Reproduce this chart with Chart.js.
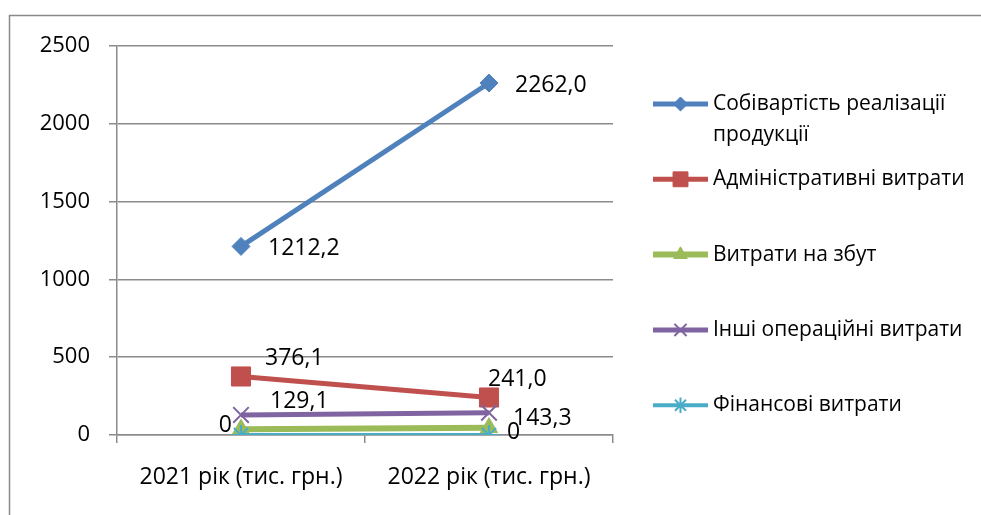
<!DOCTYPE html>
<html>
<head>
<meta charset="utf-8">
<script src="https://cdn.jsdelivr.net/npm/chart.js@4/dist/chart.umd.min.js"></script>
<style>
  html, body { margin: 0; padding: 0; background: #fff; overflow: hidden; }
  #wrap { position: relative; width: 981px; height: 515px; }
</style>
</head>
<body>
<div id="wrap"><canvas id="c" width="981" height="515"></canvas></div>
<script>
// Categories (years) and expense series, тис. грн.
const categories = ['2021 рік (тис. грн.)', '2022 рік (тис. грн.)'];
const costOfSales = [1212.2, 2262.0];
const adminExpenses = [376.1, 241.0];
const sellingExpenses = [37, 47];
const otherOperating = [129.1, 143.3];
const financeExpenses = [0, 0];
const yTicks = [0, 500, 1000, 1500, 2000, 2500];

const seriesNames = [
  ['Собівартість реалізації', 'продукції'],
  ['Адміністративні витрати'],
  ['Витрати на збут'],
  ['Інші операційні витрати'],
  ['Фінансові витрати']
];

const FONT = "'Open Sans', 'Noto Sans', sans-serif";
const GRID = '#8b8b8b';

// Where each value label sits relative to its point (null = no labels)
const labelPlacement = [
  [{ dx: 27, dy: 2, align: 'left' }, { dx: 26, dy: 2, align: 'left' }],
  [{ dx: 24, dy: -18, align: 'left' }, { dx: -1, dy: -18, align: 'left' }],
  null,
  [{ dx: 29, dy: -13, align: 'left' }, { dx: 24, dy: 6, align: 'left' }],
  [{ dx: -9, dy: -10, align: 'right' }, { dx: 18, dy: -3, align: 'left' }]
];

function fmt(v) {
  return v === 0 ? '0' : v.toFixed(1).replace('.', ',');
}

function series(idx, data, color, style, radius, width, pbw) {
  return {
    label: seriesNames[idx].join(' '),
    data: data,
    borderColor: color,
    backgroundColor: color,
    borderWidth: width,
    pointStyle: style,
    pointRadius: radius,
    pointBorderWidth: pbw,
    pointBorderColor: color,
    pointBackgroundColor: color,
    tension: 0,
    order: 4 - idx
  };
}

const datasets = [
  series(0, costOfSales, '#4F81BD', 'rectRot', 9, 5, 1),
  series(1, adminExpenses, '#C0504D', 'rect', 13.5, 5, 1),
  series(2, sellingExpenses, '#9BBB59', 'triangle', 10, 6, 1),
  series(3, otherOperating, '#8064A2', 'crossRot', 11, 5, 2),
  series(4, financeExpenses, '#4BACC6', 'star', 10, 4, 2)
];

// Outer chart frame
const framePlugin = {
  id: 'frame',
  beforeDraw(chart) {
    const ctx = chart.ctx;
    ctx.save();
    ctx.strokeStyle = '#8a8a8a';
    ctx.lineWidth = 1.5;
    ctx.strokeRect(9.5, 15.5, 1400, 1400);
    ctx.restore();
  }
};

// Value labels next to points
const valueLabels = {
  id: 'valueLabels',
  afterDatasetsDraw(chart) {
    const ctx = chart.ctx;
    ctx.save();
    ctx.font = '23px ' + FONT;
    ctx.fillStyle = '#000';
    ctx.textBaseline = 'middle';
    chart.data.datasets.forEach((ds, i) => {
      const place = labelPlacement[i];
      if (!place) return;
      const meta = chart.getDatasetMeta(i);
      meta.data.forEach((pt, j) => {
        const p = place[j];
        ctx.textAlign = p.align;
        ctx.fillText(fmt(ds.data[j]), pt.x + p.dx, pt.y + p.dy);
      });
    });
    ctx.restore();
  }
};

// Legend on the right, with wrapped first entry
const sideLegend = {
  id: 'sideLegend',
  afterDraw(chart) {
    const ctx = chart.ctx;
    const x0 = 653, x1 = 708, tx = 713, y0 = 104, step = 75.3, lh = 31;
    ctx.save();
    ctx.font = '21px ' + FONT;
    ctx.textBaseline = 'middle';
    ctx.textAlign = 'left';
    chart.data.datasets.forEach((ds, i) => {
      const y = y0 + step * i;
      ctx.strokeStyle = ds.borderColor;
      ctx.lineWidth = ds.borderWidth;
      ctx.beginPath();
      ctx.moveTo(x0, y);
      ctx.lineTo(x1, y);
      ctx.stroke();
      ctx.fillStyle = ds.backgroundColor;
      ctx.strokeStyle = ds.borderColor;
      ctx.lineWidth = ds.pointBorderWidth;
      Chart.helpers.drawPoint(ctx, {
        pointStyle: ds.pointStyle,
        radius: ds.pointRadius * 0.78,
        rotation: 0,
        borderWidth: ds.pointBorderWidth
      }, (x0 + x1) / 2, y);
      ctx.fillStyle = '#000';
      seriesNames[i].forEach((line, k) => ctx.fillText(line, tx, y + k * lh));
    });
    ctx.restore();
  }
};

new Chart(document.getElementById('c'), {
  type: 'line',
  data: { labels: categories, datasets: datasets },
  options: {
    responsive: false,
    animation: false,
    devicePixelRatio: 1,
    layout: { padding: { left: 9, top: 46, right: 368, bottom: 20 } },
    plugins: { legend: { display: false }, tooltip: { enabled: false } },
    scales: {
      x: {
        offset: true,
        grid: { offset: true, drawOnChartArea: false, drawTicks: true, tickLength: 8, color: GRID, lineWidth: 1.5 },
        border: { color: GRID, width: 1.5 },
        ticks: { color: '#000', font: { family: FONT, size: 23 }, padding: 21, maxRotation: 0 },
        afterFit(s) { s.height = 60; }
      },
      y: {
        min: 0,
        max: 2500,
        afterBuildTicks(s) { s.ticks = yTicks.map(v => ({ value: v })); },
        grid: { color: GRID, lineWidth: 1.5, tickLength: 8, drawTicks: true },
        border: { color: GRID, width: 1.5 },
        ticks: { color: '#000', font: { family: FONT, size: 22 }, padding: 19, callback: v => String(v) },
        afterFit(s) { s.width = 108; }
      }
    }
  },
  plugins: [framePlugin, valueLabels, sideLegend]
});
</script>
</body>
</html>
